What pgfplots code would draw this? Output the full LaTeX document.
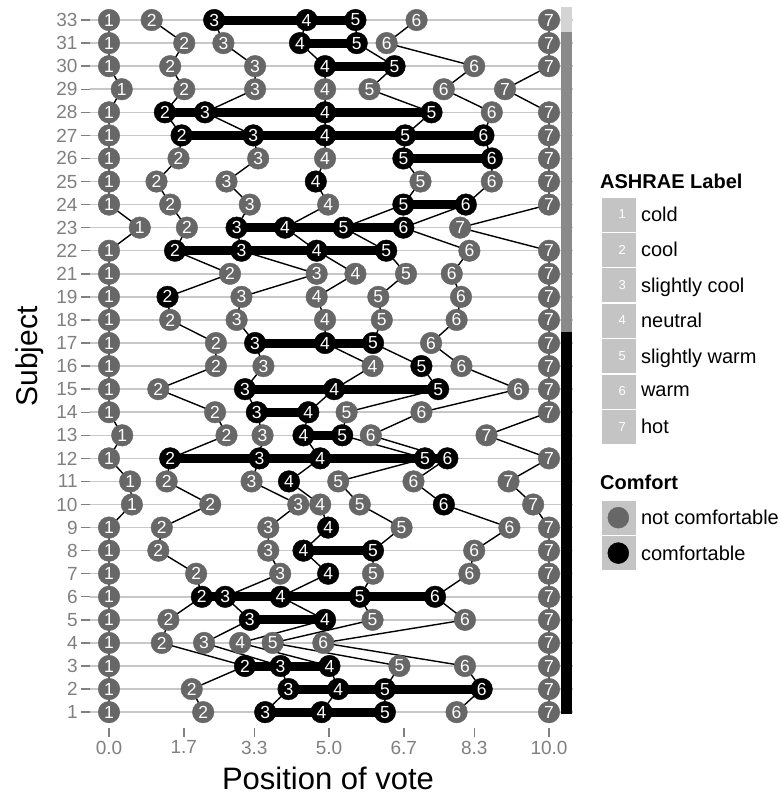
\documentclass[border=0pt]{standalone}
\usepackage{pgfplots}
\usepackage{pgfplotstable}
\usepackage{fontspec}
\setmainfont{Liberation Sans}
\pgfplotsset{compat=1.18}
\definecolor{ncgrey}{HTML}{676767}
\definecolor{gridgrey}{HTML}{C8C8C8}
\definecolor{tickgrey}{HTML}{808080}
\definecolor{keygrey}{HTML}{C4C4C4}
\definecolor{barlight}{HTML}{D4D4D4}
\definecolor{barmid}{HTML}{8A8A8A}

\pgfplotstableread{
y x1 x2 x3 x4 x5 x6 x7 c1 c2 c3 c4 c5 c6 c7
31 0 0.97 2.39 4.49 5.60 6.99 10 0 0 1 1 1 0 0
30 0 1.71 2.60 4.34 5.63 6.31 10 0 0 0 1 1 0 0
29 0 1.39 3.32 4.91 6.49 8.30 10 0 0 0 1 1 0 0
28 0.29 1.71 3.32 4.91 5.92 7.61 9.00 0 0 0 0 0 0 0
27 0 1.27 2.18 4.91 7.33 8.70 10 0 1 1 1 1 0 0
26 0 1.65 3.28 4.91 6.73 8.51 10 0 1 1 1 1 1 0
25 0 1.58 3.39 4.91 6.69 8.70 10 0 0 0 0 1 1 0
24 0 1.08 2.67 4.70 7.08 8.70 10 0 0 0 1 0 0 0
23 0 1.39 3.20 4.98 6.69 8.11 10 0 0 0 0 1 1 0
22 0.70 1.77 2.90 4.00 5.33 6.69 7.98 0 0 1 1 1 1 0
21 0 1.50 3.01 4.72 6.30 8.19 10 0 1 1 1 1 0 0
20 0 2.75 4.72 5.60 6.75 7.79 10 0 0 0 0 0 0 0
19 0 1.33 3.01 4.72 6.12 8.00 10 0 1 0 0 0 0 0
18 0 1.39 2.90 4.91 6.20 7.90 10 0 0 0 0 0 0 0
17 0 2.43 3.32 4.91 6.00 7.32 10 0 0 1 1 1 0 0
16 0 2.43 3.51 5.99 7.10 8.01 10 0 0 0 0 1 0 0
15 0 1.12 3.09 5.12 7.48 9.30 10 0 0 1 1 1 0 0
14 0 2.41 3.36 4.53 5.40 7.10 10 0 0 1 1 0 0 0
13 0.30 2.67 3.49 4.42 5.30 5.95 8.58 0 0 0 1 1 0 0
12 0 1.39 3.42 4.80 7.18 7.69 10 0 1 1 1 1 1 0
11 0.48 1.31 3.24 4.09 5.21 6.92 9.08 0 0 0 1 0 0 0
10 0.52 2.30 4.30 4.80 5.70 7.61 9.64 0 0 0 0 0 1 0
9 0 1.20 3.62 4.98 6.65 9.10 10 0 0 0 1 0 0 0
8 0 1.12 3.62 4.42 6.00 8.30 10 0 0 0 1 1 0 0
7 0 1.98 3.89 4.98 6.00 8.19 10 0 0 0 1 0 0 0
6 0 2.11 2.64 3.90 5.70 7.41 10 0 1 1 1 1 1 0
5 0 1.35 3.20 4.91 5.99 8.09 10 0 0 1 1 0 0 0
4 0 1.20 2.16 2.98 3.72 4.87 10 0 0 0 0 0 0 0
3 0 3.09 3.90 5.01 6.60 8.09 10 0 1 1 1 0 0 0
2 0 1.88 4.08 5.21 6.27 8.47 10 0 0 1 1 1 1 0
1 0 2.14 3.55 4.83 6.27 7.90 10 0 0 1 1 1 0 0
}\data

\pgfplotstableread{
x y
2.39 31
5.60 31
nan nan
4.34 30
5.63 30
nan nan
4.91 29
6.49 29
nan nan
1.27 27
7.33 27
nan nan
1.65 26
8.51 26
nan nan
6.69 25
8.70 25
nan nan
6.69 23
8.11 23
nan nan
2.90 22
6.69 22
nan nan
1.50 21
6.30 21
nan nan
3.32 17
6.00 17
nan nan
3.09 15
7.48 15
nan nan
3.36 14
4.53 14
nan nan
4.42 13
5.30 13
nan nan
1.39 12
7.69 12
nan nan
4.42 8
6.00 8
nan nan
2.11 6
7.41 6
nan nan
3.20 5
4.91 5
nan nan
3.09 3
5.01 3
nan nan
4.08 2
8.47 2
nan nan
3.55 1
6.27 1
}\segs

\newcommand\tickfont{\fontsize{19}{19}\selectfont}
\newcommand\legfont{\fontsize{20}{20}\selectfont}
\newcommand\numfont{\fontsize{17.5}{17.5}\selectfont}
\newcommand\keyfont{\fontsize{13}{13}\selectfont}

\begin{document}
\begin{tikzpicture}
\useasboundingbox (0,0) rectangle (779pt,794pt);
\begin{axis}[
  at={(90.1pt,65.7pt)}, anchor=south west,
  scale only axis, width=483.1pt, height=722.1pt,
  xmin=-0.43, xmax=10.55, ymin=0.3, ymax=31.6,
  clip=false,
  axis x line*=bottom, axis y line*=left,
  axis line style={draw=none},
  tick align=outside, major tick length=9pt,
  tick style={draw=tickgrey, line width=1.4pt},
  xtick={0,1.7,3.3,5,6.7,8.3,10},
  xticklabels={0.0,1.7,3.3,5.0,6.7,8.3,10.0},
  ytick={1,...,31},
  yticklabels={1,2,3,4,5,6,7,8,9,10,11,12,13,14,15,16,17,18,19,21,22,23,24,25,26,27,28,29,30,31,33},
  ymajorgrids,
  major grid style={draw=gridgrey, line width=1.5pt},
  ticklabel style={font=\tickfont, text=tickgrey},
  /pgf/number format/assume math mode=true,
  xlabel={Position of vote},
  ylabel={Subject},
  xlabel style={font=\fontsize{31}{31}\selectfont, at={(axis description cs:0.4925,-0.0688)}, anchor=center},
  ylabel style={font=\fontsize{30}{30}\selectfont, at={(axis description cs:-0.1244,0.515)}, anchor=center, rotate=0},
  legend style={at={(axis description cs:1.0584,0.7352)}, anchor=north west, draw=none, fill=none,
    inner xsep=0pt, inner ysep=0pt, row sep=2pt, column sep=6pt,
    nodes={inner sep=0pt, text depth=0pt}, font=\legfont},
  legend cell align=left,
  vote node/.style={forget plot, only marks, mark=*, mark size=10.8pt,
    nodes near coords align={center},
    every node near coord/.append style={anchor=center, text=white, font=\numfont, inner sep=0pt}},
]
% group bar
\addplot[forget plot, barlight, line width=11.5pt] coordinates {(10.40,30.48) (10.40,31.56)};
\addplot[forget plot, barmid, line width=11.5pt] coordinates {(10.40,17.48) (10.40,30.48)};
\addplot[forget plot, black, line width=11.5pt] coordinates {(10.40,0.90) (10.40,17.48)};
% thin connecting lines per label
\pgfplotsinvokeforeach{1,...,7}{
  \addplot[forget plot, black, line width=1.4pt, mark=none] table[x=x#1, y=y] {\data};
}
% thick comfortable segments
\addplot[forget plot, black, line width=9pt, mark=none, unbounded coords=jump] table[x=x, y=y] {\segs};
% nodes: not comfortable (grey) and comfortable (black)
\pgfplotsinvokeforeach{1,...,7}{
  \addplot[vote node, color=ncgrey, mark options={fill=ncgrey, draw=ncgrey},
    restrict expr to domain={\thisrow{c#1}}{-0.5:0.5}, unbounded coords=discard,
    nodes near coords={#1}]
    table[x=x#1, y=y] {\data};
  \addplot[vote node, color=black, mark options={fill=black, draw=black},
    restrict expr to domain={\thisrow{c#1}}{0.5:1.5}, unbounded coords=discard,
    nodes near coords={#1}]
    table[x=x#1, y=y] {\data};
}
% legend
\addlegendimage{legend image code/.code={\fill[keygrey] (0pt,-16.5pt) rectangle (33pt,16.5pt); \node[text=white, font=\keyfont] at (16.5pt,0pt) {1};}}
\addlegendentry{cold}
\addlegendimage{legend image code/.code={\fill[keygrey] (0pt,-16.5pt) rectangle (33pt,16.5pt); \node[text=white, font=\keyfont] at (16.5pt,0pt) {2};}}
\addlegendentry{cool}
\addlegendimage{legend image code/.code={\fill[keygrey] (0pt,-16.5pt) rectangle (33pt,16.5pt); \node[text=white, font=\keyfont] at (16.5pt,0pt) {3};}}
\addlegendentry{slightly cool}
\addlegendimage{legend image code/.code={\fill[keygrey] (0pt,-16.5pt) rectangle (33pt,16.5pt); \node[text=white, font=\keyfont] at (16.5pt,0pt) {4};}}
\addlegendentry{neutral}
\addlegendimage{legend image code/.code={\fill[keygrey] (0pt,-16.5pt) rectangle (33pt,16.5pt); \node[text=white, font=\keyfont] at (16.5pt,0pt) {5};}}
\addlegendentry{slightly warm}
\addlegendimage{legend image code/.code={\fill[keygrey] (0pt,-16.5pt) rectangle (33pt,16.5pt); \node[text=white, font=\keyfont] at (16.5pt,0pt) {6};}}
\addlegendentry{warm}
\addlegendimage{legend image code/.code={\fill[keygrey] (0pt,-16.5pt) rectangle (33pt,16.5pt); \node[text=white, font=\keyfont] at (16.5pt,0pt) {7};}}
\addlegendentry{hot}
\addlegendimage{legend image code/.code={\path[draw=none, fill=none] (0pt,-26.8pt) rectangle (33pt,26.8pt);}}
\addlegendentry{}
\addlegendimage{legend image code/.code={\fill[keygrey] (0pt,-16.5pt) rectangle (33pt,16.5pt); \fill[ncgrey] (16.5pt,0pt) circle (10.5pt);}}
\addlegendentry{not comfortable}
\addlegendimage{legend image code/.code={\fill[keygrey] (0pt,-16.5pt) rectangle (33pt,16.5pt); \fill[black] (16.5pt,0pt) circle (10.5pt);}}
\addlegendentry{comfortable}
\end{axis}
\node[anchor=west, font=\bfseries\legfont, inner sep=0pt] at (600pt,613pt) {ASHRAE Label};
\node[anchor=west, font=\bfseries\legfont, inner sep=0pt] at (600pt,311.5pt) {Comfort};
\end{tikzpicture}
\end{document}
